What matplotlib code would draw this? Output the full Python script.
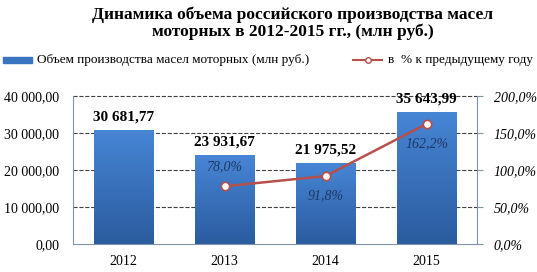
import numpy as np
import matplotlib
matplotlib.use("Agg")
import matplotlib.pyplot as plt
from matplotlib.ticker import FuncFormatter
from matplotlib.colors import LinearSegmentedColormap
from matplotlib.lines import Line2D
from matplotlib.patches import Rectangle

plt.rcParams["font.family"] = ["Liberation Serif", "DejaVu Serif"]

years = ["2012", "2013", "2014", "2015"]
volume = [30681.77, 23931.67, 21975.52, 35643.99]
volume_labels = ["30 681,77", "23 931,67", "21 975,52", "35 643,99"]
pct_years = ["2013", "2014", "2015"]
pct = [78.0, 91.8, 162.2]
pct_labels = ["78,0%", "91,8%", "162,2%"]
grid_vals = [10000, 20000, 30000, 40000]

BAR_TOP = "#4684d4"
BAR_BOT = "#2a5b9e"
LINE_C = "#b5504c"
AX_C = "#7f93ad"
W, H = 537, 272

fig = plt.figure(figsize=(5.37, 2.72), dpi=100)
ax = fig.add_axes([73 / W, 1 - 244 / H, 404 / W, 148 / H])
ax.patch.set_visible(False)
ax2 = ax.twinx()

x = np.arange(len(years))
bw = 0.575

# bars with vertical gradient, built from thin stacked slices
cmap = LinearSegmentedColormap.from_list("g", [BAR_BOT, BAR_TOP])
n_sl = 60
for i, v in enumerate(volume):
    edges = np.linspace(0, v, n_sl + 1)
    cols = [cmap(k / (n_sl - 1)) for k in range(n_sl)]
    ax.bar(np.full(n_sl, i), np.diff(edges), bottom=edges[:-1], width=bw,
           color=cols, edgecolor=cols, linewidth=0.4, antialiased=False,
           zorder=2)

for i, (v, lab) in enumerate(zip(volume, volume_labels)):
    ax.text(i, v + 1800, lab, ha="center", va="bottom", fontsize=11,
            fontweight="bold", color="black", zorder=5)

ax.set_xlim(-0.5, 3.5)
ax.set_ylim(0, 40000)
ax.set_yticks(np.arange(0, 40001, 10000))
ax.yaxis.set_major_formatter(FuncFormatter(
    lambda v, p: f"{v:,.2f}".replace(",", " ").replace(".", ",")))
ax.set_xticks(x)
ax.set_xticklabels(years)
ax.tick_params(axis="y", length=0, labelsize=10, pad=10)
ax.tick_params(axis="x", length=0, labelsize=10, pad=8)

# dashed gridlines: figure-level, behind both axes (axes patches are hidden)
ytrans = ax.get_yaxis_transform()
for g in grid_vals:
    fig.add_artist(Line2D([0, 1], [g, g], transform=ytrans, color="#404040",
                          linestyle="--", linewidth=0.8, zorder=-1))

xp = [years.index(y) for y in pct_years]
ax2.plot(xp, pct, color=LINE_C, linewidth=1.8, marker="o", markersize=6,
         markerfacecolor="white", markeredgecolor=LINE_C, markeredgewidth=1.2,
         zorder=4)
offsets = [14, -14, -14]
for xi, p, lab, off in zip(xp, pct, pct_labels, offsets):
    ax2.annotate(lab, (xi, p), xytext=(0, off), textcoords="offset points",
                 ha="center", va="center", fontsize=10, style="italic",
                 color="#1f3864")
ax2.set_ylim(0, 200)
ax2.set_yticks(np.arange(0, 201, 50))
ax2.yaxis.set_major_formatter(FuncFormatter(
    lambda v, p: f"{v:.1f}%".replace(".", ",")))
ax2.tick_params(axis="y", direction="out", length=4, color=AX_C, labelsize=10,
                pad=8)
for t in ax2.get_yticklabels():
    t.set_style("italic")

for a in (ax, ax2):
    a.spines["top"].set_visible(False)
    a.spines["left"].set_color(AX_C)
    a.spines["right"].set_color(AX_C)
    a.spines["bottom"].set_color(AX_C)
ax.spines["right"].set_visible(False)
ax2.spines["left"].set_visible(False)
ax2.spines["bottom"].set_visible(False)

fig.text(0.545, 0.975, "Динамика объема российского производства масел\nмоторных в 2012-2015 гг., (млн руб.)",
         ha="center", va="top", fontsize=12.5, fontweight="bold",
         linespacing=1.05)

# legend, drawn straight on the figure (pixel positions -> figure fraction)
fx = lambda px: px / W
fy = lambda py: 1 - py / H
fig.add_artist(Rectangle((fx(3), fy(63)), 29 / W, 6 / H, color="#3a73c0",
                         transform=fig.transFigure))
fig.text(fx(37), fy(60), "Объем производства масел моторных (млн руб.)",
         va="center", fontsize=9.5)
fig.add_artist(Line2D([fx(353), fx(382)], [fy(60), fy(60)], color=LINE_C,
                      linewidth=1.5, transform=fig.transFigure))
fig.add_artist(Line2D([fx(367.5)], [fy(60)], marker="o", markersize=4,
                      markerfacecolor="white", markeredgecolor=LINE_C,
                      linestyle="none", transform=fig.transFigure))
fig.text(fx(388), fy(60), "в  % к предыдущему году", va="center", fontsize=9.5)

fig.savefig("out.png", dpi=100)
